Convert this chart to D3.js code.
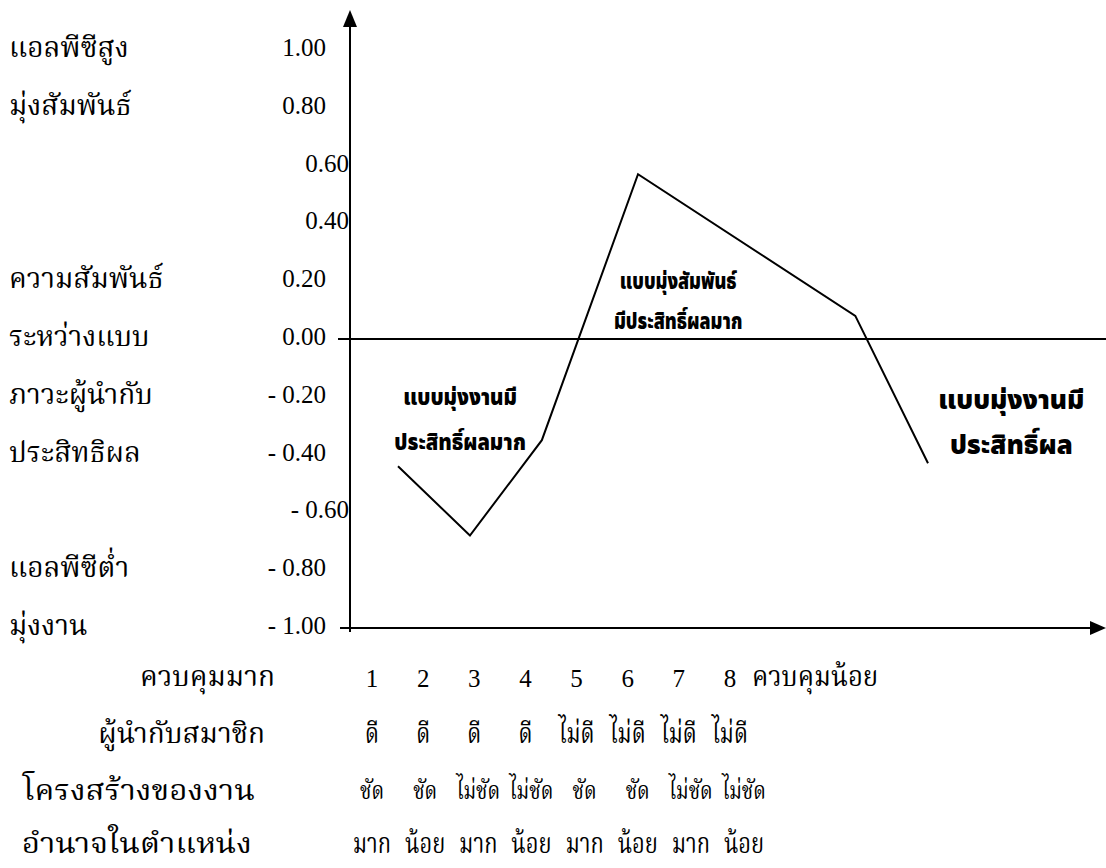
<!DOCTYPE html>
<html>
<head>
<meta charset="utf-8">
<script src="https://cdn.jsdelivr.net/npm/d3@7"></script>
<style>
  html, body { margin: 0; padding: 0; background: #fff; }
  svg { display: block; }
  .thai { font-family: "Noto Serif Thai", "Norasi", "Noto Sans Thai", "Loma", "Garuda", "Liberation Serif", serif; font-size: 28px; fill: #000; }
  .num  { font-family: "Liberation Serif", "Times New Roman", serif; font-size: 25px; fill: #000; }
  .note { font-family: "Noto Sans Thai", "Loma", "Garuda", "Noto Sans", sans-serif; font-weight: 900; fill: #000; }
</style>
</head>
<body>
<svg id="chart" width="1106" height="868"></svg>
<script>
// Correlation between leader LPC score and group effectiveness, by octant
const octants = [1, 2, 3, 4, 5, 6, 7, 8];
const curvePos = [1, 1.95, 2.9, 4.17, 7.04, 8];          // vertex positions along the octant run
const curveCorr = [-0.44, -0.68, -0.35, 0.57, 0.08, -0.43];

// Vertical scale ticks
const yTicks = [1, 0.8, 0.6, 0.4, 0.2, 0, -0.2, -0.4, -0.6, -0.8, -1];
const yTickLabels = ["1.00", "0.80", "0.60", "0.40", "0.20", "0.00", "- 0.20", "- 0.40", "- 0.60", "- 0.80", "-  1.00"];

// Row captions beside the vertical scale
const sideValues = [1, 0.8, 0.2, 0, -0.2, -0.4, -0.8, -1];
const sideTexts = ["แอลพีซีสูง", "มุ่งสัมพันธ์", "ความสัมพันธ์", "ระหว่างแบบ", "ภาวะผู้นำกับ", "ประสิทธิผล", "แอลพีซีต่ำ", "มุ่งงาน"];

// Situation rows under the horizontal axis
const rowTitles = ["ควบคุมมาก", "ผู้นำกับสมาชิก", "โครงสร้างของงาน", "อำนาจในตำแหน่ง"];
const relations = ["ดี", "ดี", "ดี", "ดี", "ไม่ดี", "ไม่ดี", "ไม่ดี", "ไม่ดี"];
const structures = ["ชัด", "ชัด", "ไม่ชัด", "ไม่ชัด", "ชัด", "ชัด", "ไม่ชัด", "ไม่ชัด"];
const powers = ["มาก", "น้อย", "มาก", "น้อย", "มาก", "น้อย", "มาก", "น้อย"];
const endLabel = "ควบคุมน้อย";

// Region notes (position along octant run, correlation level)
const noteLines = [["แบบมุ่งงานมี", "ประสิทธิ์ผลมาก"], ["แบบมุ่งสัมพันธ์", "มีประสิทธิ์ผลมาก"], ["แบบมุ่งงานมี", "ประสิทธิ์ผล"]];
const notePos = [1.82, 4.7, 9.1];
const noteCorr = [-0.2, 0.2, -0.21];

const svg = d3.select("#chart");
const axisX = 350;

const y = d3.scaleLinear().domain([-1, 1]).range([628, 50]);
const xCurve = d3.scaleLinear().domain([1, 8]).range([398, 928]);
const xCat = d3.scalePoint().domain(octants).range([372, 730]);

// rescale a text selection horizontally to a share of its natural width
function condense(sel, k) {
  sel.each(function () {
    const w = this.getComputedTextLength();
    d3.select(this).attr("textLength", w * k).attr("lengthAdjust", "spacingAndGlyphs");
  });
}

// axes
svg.append("line").attr("x1", axisX).attr("x2", axisX).attr("y1", y(-1) + 4).attr("y2", 24)
  .attr("stroke", "#000").attr("stroke-width", 2);
svg.append("path").attr("d", `M${axisX},10 L${axisX - 7},27 L${axisX + 7},27 Z`).attr("fill", "#000");

svg.append("line").attr("x1", 340).attr("x2", 1092).attr("y1", y(-1)).attr("y2", y(-1))
  .attr("stroke", "#000").attr("stroke-width", 2);
svg.append("path").attr("d", `M1106,${y(-1)} L1090,${y(-1) - 7} L1090,${y(-1) + 7} Z`).attr("fill", "#000");

svg.append("line").attr("x1", 338).attr("x2", 1106).attr("y1", y(0)).attr("y2", y(0))
  .attr("stroke", "#000").attr("stroke-width", 2);

// tick labels
const flush = new Set([0.6, 0.4, -0.6]);
const yAxis = d3.axisLeft(y).tickValues(yTicks).tickSize(0)
  .tickFormat((d, i) => yTickLabels[i]);
const gy = svg.append("g").attr("transform", `translate(${axisX},0)`).call(yAxis);
gy.select(".domain").remove();
gy.attr("font-family", null).attr("font-size", null);
gy.selectAll(".tick text")
  .attr("class", "num")
  .attr("x", d => flush.has(d) ? -1 : -24)
  .attr("dy", "0.22em");

// side captions
svg.append("g").selectAll("text").data(sideValues).join("text")
  .attr("class", "thai")
  .attr("x", 9).attr("y", d => y(d)).attr("dy", "0.25em")
  .text((d, i) => sideTexts[i]);

// the curve
const line = d3.line().x(d => xCurve(d[0])).y(d => y(d[1]));
svg.append("path").datum(d3.zip(curvePos, curveCorr))
  .attr("d", line).attr("fill", "none").attr("stroke", "#000").attr("stroke-width", 2);

// region notes
const noteSize = [22, 23, 26];
const noteSqueeze = [0.92, 0.78, 1];
const noteGap = [45, 40, 45];
noteLines.forEach((lines, i) => {
  lines.forEach((t, j) => {
    svg.append("text").attr("class", "note").attr("text-anchor", "middle")
      .attr("font-size", noteSize[i])
      .attr("x", xCurve(notePos[i])).attr("y", y(noteCorr[i]) + j * noteGap[i]).attr("dy", "0.35em")
      .text(t)
      .call(condense, noteSqueeze[i]);
  });
});

// rows below the axis
const rowY = [678, 735, 792, 845];
const rowEnds = [275, 265, 255, 252];
const rowStretch = [1, 1, 1.12, 1.12];
svg.append("g").selectAll("text").data(rowTitles).join("text")
  .attr("class", "thai").attr("text-anchor", "end")
  .attr("x", (d, i) => rowEnds[i]).attr("y", (d, i) => rowY[i]).attr("dy", "0.3em")
  .text(d => d)
  .each(function (d, i) { d3.select(this).call(condense, rowStretch[i]); });

svg.append("g").selectAll("text").data(octants).join("text")
  .attr("class", "num").attr("text-anchor", "middle")
  .attr("x", d => xCat(d)).attr("y", rowY[0]).attr("dy", "0.35em").text(d => d);
svg.append("text").attr("class", "thai").attr("x", xCat(8) + 22).attr("y", rowY[0]).attr("dy", "0.3em")
  .text(endLabel).call(condense, 0.92);

const rowSize = [28, 24, 28];
const rowSqueeze = [0.78, 0.82, 0.78];
[relations, structures, powers].forEach((arr, r) => {
  svg.append("g").selectAll("text").data(arr).join("text")
    .attr("class", "thai").attr("text-anchor", "middle")
    .style("font-size", rowSize[r] + "px")
    .attr("x", (d, i) => xCat(octants[i]) + (r === 0 ? 0 : i * 2))
    .attr("y", rowY[r + 1]).attr("dy", "0.3em").text(d => d)
    .call(condense, rowSqueeze[r]);
});
</script>
</body>
</html>
